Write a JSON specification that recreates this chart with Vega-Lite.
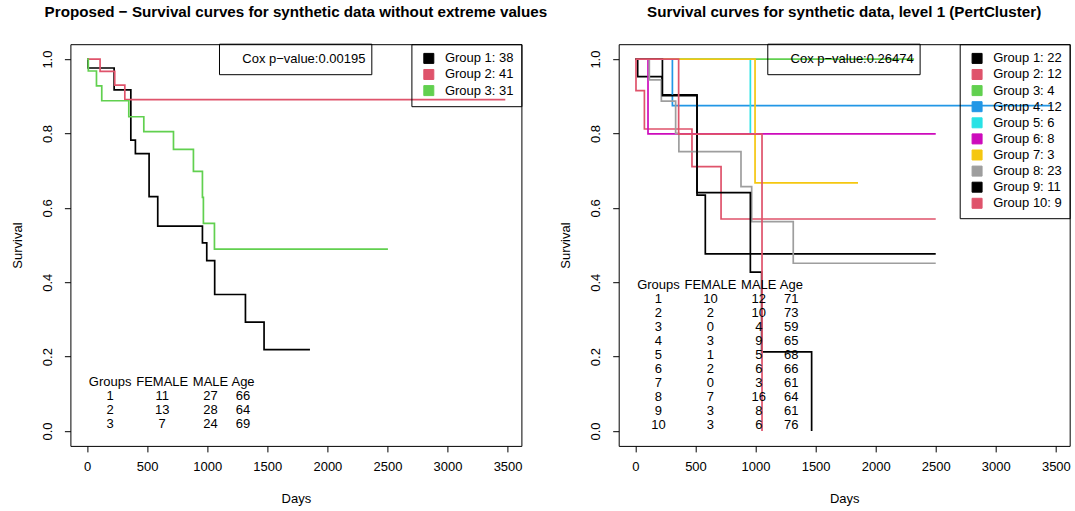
{
  "$schema": "https://vega.github.io/schema/vega-lite/v6.json",
  "background": "white",
  "padding": {"left": 10.4, "top": 4.2, "right": 5, "bottom": 5},
  "bounds": "flush",
  "spacing": 97.3,
  "resolve": {"scale": {"color": "independent"}, "legend": {"color": "independent"}},
  "config": {
    "font": "Liberation Sans",
    "view": {"stroke": "black", "strokeWidth": 1},
    "axis": {
      "grid": false, "domain": false, "tickColor": "black", "tickSize": 6, "tickWidth": 1,
      "labelColor": "black", "labelFont": "Liberation Sans", "labelFontSize": 13,
      "titleColor": "black", "titleFont": "Liberation Sans", "titleFontSize": 13, "titleFontWeight": "normal"
    },
    "axisX": {"labelPadding": 8.7, "titlePadding": 19},
    "axisY": {"labelAngle": 270, "labelAlign": "center", "labelBaseline": "bottom", "labelPadding": 10.3, "titlePadding": 17},
    "legend": {
      "title": null, "orient": "top-right", "offset": 0, "padding": 7.7, "strokeColor": "black",
      "symbolType": "square", "symbolSize": 100, "symbolStrokeWidth": 1, "symbolOffset": 3.2, "symbolOpacity": 1,
      "labelOffset": 9.6, "labelFont": "Liberation Sans", "labelFontSize": 13, "labelColor": "black",
      "rowPadding": 1.1, "labelLimit": 0
    },
    "title": {"font": "Liberation Sans", "fontSize": 15.2, "fontWeight": "bold", "color": "black", "anchor": "middle", "baseline": "alphabetic", "offset": 23.6, "frame": "group"},
    "text": {"font": "Liberation Sans", "fontSize": 13, "color": "black"}
  },
  "datasets": {
    "left_curves": [
      {"group": "Group 1: 38", "days": 0, "surv": 1.0},
      {"group": "Group 1: 38", "days": 8, "surv": 0.976},
      {"group": "Group 1: 38", "days": 225, "surv": 0.917},
      {"group": "Group 1: 38", "days": 364, "surv": 0.782},
      {"group": "Group 1: 38", "days": 402, "surv": 0.746},
      {"group": "Group 1: 38", "days": 516, "surv": 0.630},
      {"group": "Group 1: 38", "days": 588, "surv": 0.551},
      {"group": "Group 1: 38", "days": 960, "surv": 0.506},
      {"group": "Group 1: 38", "days": 996, "surv": 0.458},
      {"group": "Group 1: 38", "days": 1062, "surv": 0.367},
      {"group": "Group 1: 38", "days": 1318, "surv": 0.293},
      {"group": "Group 1: 38", "days": 1473, "surv": 0.219},
      {"group": "Group 1: 38", "days": 1855, "surv": 0.219},
      {"group": "Group 2: 41", "days": 0, "surv": 1.0},
      {"group": "Group 2: 41", "days": 108, "surv": 0.967},
      {"group": "Group 2: 41", "days": 230, "surv": 0.930},
      {"group": "Group 2: 41", "days": 314, "surv": 0.891},
      {"group": "Group 2: 41", "days": 3481, "surv": 0.891},
      {"group": "Group 3: 31", "days": 0, "surv": 1.0},
      {"group": "Group 3: 31", "days": 10, "surv": 0.968},
      {"group": "Group 3: 31", "days": 78, "surv": 0.928},
      {"group": "Group 3: 31", "days": 122, "surv": 0.888},
      {"group": "Group 3: 31", "days": 347, "surv": 0.845},
      {"group": "Group 3: 31", "days": 472, "surv": 0.805},
      {"group": "Group 3: 31", "days": 719, "surv": 0.757},
      {"group": "Group 3: 31", "days": 885, "surv": 0.698},
      {"group": "Group 3: 31", "days": 960, "surv": 0.628},
      {"group": "Group 3: 31", "days": 968, "surv": 0.558},
      {"group": "Group 3: 31", "days": 1060, "surv": 0.489},
      {"group": "Group 3: 31", "days": 2504, "surv": 0.489}
    ],
    "right_curves": [
      {"group": "Group 1: 22", "days": 0, "surv": 1.0},
      {"group": "Group 1: 22", "days": 19, "surv": 0.953},
      {"group": "Group 1: 22", "days": 222, "surv": 0.904},
      {"group": "Group 1: 22", "days": 513, "surv": 0.634},
      {"group": "Group 1: 22", "days": 582, "surv": 0.476},
      {"group": "Group 1: 22", "days": 2500, "surv": 0.476},
      {"group": "Group 2: 12", "days": 0, "surv": 1.0},
      {"group": "Group 2: 12", "days": 5, "surv": 0.915},
      {"group": "Group 2: 12", "days": 75, "surv": 0.812},
      {"group": "Group 2: 12", "days": 471, "surv": 0.711},
      {"group": "Group 2: 12", "days": 713, "surv": 0.570},
      {"group": "Group 2: 12", "days": 2500, "surv": 0.570},
      {"group": "Group 3: 4", "days": 0, "surv": 1.0},
      {"group": "Group 3: 4", "days": 2320, "surv": 1.0},
      {"group": "Group 4: 12", "days": 0, "surv": 1.0},
      {"group": "Group 4: 12", "days": 308, "surv": 0.875},
      {"group": "Group 4: 12", "days": 3470, "surv": 0.875},
      {"group": "Group 5: 6", "days": 0, "surv": 1.0},
      {"group": "Group 5: 6", "days": 957, "surv": 0.798},
      {"group": "Group 6: 8", "days": 0, "surv": 1.0},
      {"group": "Group 6: 8", "days": 105, "surv": 0.799},
      {"group": "Group 6: 8", "days": 2500, "surv": 0.799},
      {"group": "Group 7: 3", "days": 0, "surv": 1.0},
      {"group": "Group 7: 3", "days": 996, "surv": 0.667},
      {"group": "Group 7: 3", "days": 1853, "surv": 0.667},
      {"group": "Group 8: 23", "days": 0, "surv": 1.0},
      {"group": "Group 8: 23", "days": 116, "surv": 0.944},
      {"group": "Group 8: 23", "days": 216, "surv": 0.887},
      {"group": "Group 8: 23", "days": 335, "surv": 0.800},
      {"group": "Group 8: 23", "days": 362, "surv": 0.751},
      {"group": "Group 8: 23", "days": 879, "surv": 0.657},
      {"group": "Group 8: 23", "days": 968, "surv": 0.563},
      {"group": "Group 8: 23", "days": 1314, "surv": 0.451},
      {"group": "Group 8: 23", "days": 2500, "surv": 0.451},
      {"group": "Group 9: 11", "days": 0, "surv": 1.0},
      {"group": "Group 9: 11", "days": 225, "surv": 0.902},
      {"group": "Group 9: 11", "days": 513, "surv": 0.641},
      {"group": "Group 9: 11", "days": 957, "surv": 0.427},
      {"group": "Group 9: 11", "days": 1051, "surv": 0.213},
      {"group": "Group 9: 11", "days": 1467, "surv": 0.0},
      {"group": "Group 10: 9", "days": 0, "surv": 1.0},
      {"group": "Group 10: 9", "days": 360, "surv": 0.798},
      {"group": "Group 10: 9", "days": 1054, "surv": 0.0}
    ],
    "left_cox": [{"label": "Cox p−value:0.00195"}],
    "right_cox": [{"label": "Cox p−value:0.26474"}],
    "left_table": [
      {"row": 0, "Groups": "Groups", "FEMALE": "FEMALE", "MALE": "MALE", "Age": "Age"},
      {"row": 1, "Groups": "1", "FEMALE": "11", "MALE": "27", "Age": "66"},
      {"row": 2, "Groups": "2", "FEMALE": "13", "MALE": "28", "Age": "64"},
      {"row": 3, "Groups": "3", "FEMALE": "7", "MALE": "24", "Age": "69"}
    ],
    "right_table": [
      {"row": 0, "Groups": "Groups", "FEMALE": "FEMALE", "MALE": "MALE", "Age": "Age"},
      {"row": 1, "Groups": "1", "FEMALE": "10", "MALE": "12", "Age": "71"},
      {"row": 2, "Groups": "2", "FEMALE": "2", "MALE": "10", "Age": "73"},
      {"row": 3, "Groups": "3", "FEMALE": "0", "MALE": "4", "Age": "59"},
      {"row": 4, "Groups": "4", "FEMALE": "3", "MALE": "9", "Age": "65"},
      {"row": 5, "Groups": "5", "FEMALE": "1", "MALE": "5", "Age": "68"},
      {"row": 6, "Groups": "6", "FEMALE": "2", "MALE": "6", "Age": "66"},
      {"row": 7, "Groups": "7", "FEMALE": "0", "MALE": "3", "Age": "61"},
      {"row": 8, "Groups": "8", "FEMALE": "7", "MALE": "16", "Age": "64"},
      {"row": 9, "Groups": "9", "FEMALE": "3", "MALE": "8", "Age": "61"},
      {"row": 10, "Groups": "10", "FEMALE": "3", "MALE": "6", "Age": "76"}
    ]
  },
  "hconcat": [
    {
      "width": 451, "height": 401.7,
      "title": {"text": "Proposed − Survival curves for synthetic data without extreme values"},
      "resolve": {"scale": {"y": "independent"}},
      "layer": [
        {
          "data": {"name": "left_curves"},
          "encoding": {
            "x": {"field": "days", "type": "quantitative", "scale": {"domain": [-139, 3615], "nice": false, "zero": false},
                  "axis": {"title": "Days", "values": [0, 500, 1000, 1500, 2000, 2500, 3000, 3500], "format": "d"}},
            "y": {"field": "surv", "type": "quantitative", "scale": {"domain": [-0.04, 1.04], "nice": false, "zero": false},
                  "axis": {"title": "Survival", "values": [0, 0.2, 0.4, 0.6, 0.8, 1.0], "format": ".1f"}},
            "color": {"field": "group", "type": "nominal",
                      "scale": {"domain": ["Group 1: 38", "Group 2: 41", "Group 3: 31"], "range": ["#000000", "#DF536B", "#61D04F"]}}
          },
          "layer": [
            {"transform": [{"filter": "false"}], "mark": {"type": "square", "filled": true, "opacity": 1, "stroke": "black", "strokeWidth": 1}},
            {"mark": {"type": "line", "interpolate": "step-after", "strokeWidth": 1.7}}
          ]
        },
        {
          "data": {"name": "left_cox"},
          "layer": [
            {"mark": {"type": "rect", "filled": false, "stroke": "black", "strokeWidth": 1},
             "encoding": {
               "x": {"datum": 1102, "type": "quantitative"}, "x2": {"datum": 2370},
               "y": {"datum": 1.04, "type": "quantitative", "scale": {"domain": [-0.04, 1.04], "nice": false, "zero": false}, "axis": null},
               "y2": {"datum": 0.958}}},
            {"mark": {"type": "text", "align": "center", "baseline": "middle"},
             "encoding": {
               "x": {"datum": 1804, "type": "quantitative"},
               "y": {"datum": 1.0, "type": "quantitative"},
               "text": {"field": "label"}}}
          ]
        },
        {
          "data": {"name": "left_table"},
          "encoding": {
            "y": {"field": "row", "type": "quantitative", "scale": {"domain": [-24.157, 4.536], "reverse": true, "nice": false, "zero": false}, "axis": null}
          },
          "layer": [
            {"mark": {"type": "text", "align": "center", "baseline": "middle"}, "encoding": {"x": {"datum": 192, "type": "quantitative"}, "text": {"field": "Groups"}}},
            {"mark": {"type": "text", "align": "center", "baseline": "middle"}, "encoding": {"x": {"datum": 625, "type": "quantitative"}, "text": {"field": "FEMALE"}}},
            {"mark": {"type": "text", "align": "center", "baseline": "middle"}, "encoding": {"x": {"datum": 1027, "type": "quantitative"}, "text": {"field": "MALE"}}},
            {"mark": {"type": "text", "align": "center", "baseline": "middle"}, "encoding": {"x": {"datum": 1298, "type": "quantitative"}, "text": {"field": "Age"}}}
          ]
        }
      ]
    },
    {
      "width": 451, "height": 401.7,
      "title": {"text": "Survival curves for synthetic data, level 1 (PertCluster)"},
      "resolve": {"scale": {"y": "independent"}},
      "layer": [
        {
          "data": {"name": "right_curves"},
          "encoding": {
            "x": {"field": "days", "type": "quantitative", "scale": {"domain": [-139, 3615], "nice": false, "zero": false},
                  "axis": {"title": "Days", "values": [0, 500, 1000, 1500, 2000, 2500, 3000, 3500], "format": "d"}},
            "y": {"field": "surv", "type": "quantitative", "scale": {"domain": [-0.04, 1.04], "nice": false, "zero": false},
                  "axis": {"title": "Survival", "values": [0, 0.2, 0.4, 0.6, 0.8, 1.0], "format": ".1f"}},
            "color": {"field": "group", "type": "nominal",
                      "scale": {"domain": ["Group 1: 22", "Group 2: 12", "Group 3: 4", "Group 4: 12", "Group 5: 6", "Group 6: 8", "Group 7: 3", "Group 8: 23", "Group 9: 11", "Group 10: 9"],
                                "range": ["#000000", "#DF536B", "#61D04F", "#2297E6", "#28E2E5", "#CD0BBC", "#F5C710", "#9E9E9E", "#000000", "#DF536B"]}}
          },
          "layer": [
            {"transform": [{"filter": "false"}], "mark": {"type": "square", "filled": true, "opacity": 1, "stroke": "black", "strokeWidth": 1}},
            {"mark": {"type": "line", "interpolate": "step-after", "strokeWidth": 1.7}}
          ]
        },
        {
          "data": {"name": "right_cox"},
          "layer": [
            {"mark": {"type": "rect", "filled": false, "stroke": "black", "strokeWidth": 1},
             "encoding": {
               "x": {"datum": 1102, "type": "quantitative"}, "x2": {"datum": 2370},
               "y": {"datum": 1.04, "type": "quantitative", "scale": {"domain": [-0.04, 1.04], "nice": false, "zero": false}, "axis": null},
               "y2": {"datum": 0.958}}},
            {"mark": {"type": "text", "align": "center", "baseline": "middle"},
             "encoding": {
               "x": {"datum": 1804, "type": "quantitative"},
               "y": {"datum": 1.0, "type": "quantitative"},
               "text": {"field": "label"}}}
          ]
        },
        {
          "data": {"name": "right_table"},
          "encoding": {
            "y": {"field": "row", "type": "quantitative", "scale": {"domain": [-17.17, 11.52], "reverse": true, "nice": false, "zero": false}, "axis": null}
          },
          "layer": [
            {"mark": {"type": "text", "align": "center", "baseline": "middle"}, "encoding": {"x": {"datum": 192, "type": "quantitative"}, "text": {"field": "Groups"}}},
            {"mark": {"type": "text", "align": "center", "baseline": "middle"}, "encoding": {"x": {"datum": 625, "type": "quantitative"}, "text": {"field": "FEMALE"}}},
            {"mark": {"type": "text", "align": "center", "baseline": "middle"}, "encoding": {"x": {"datum": 1027, "type": "quantitative"}, "text": {"field": "MALE"}}},
            {"mark": {"type": "text", "align": "center", "baseline": "middle"}, "encoding": {"x": {"datum": 1298, "type": "quantitative"}, "text": {"field": "Age"}}}
          ]
        }
      ]
    }
  ]
}
